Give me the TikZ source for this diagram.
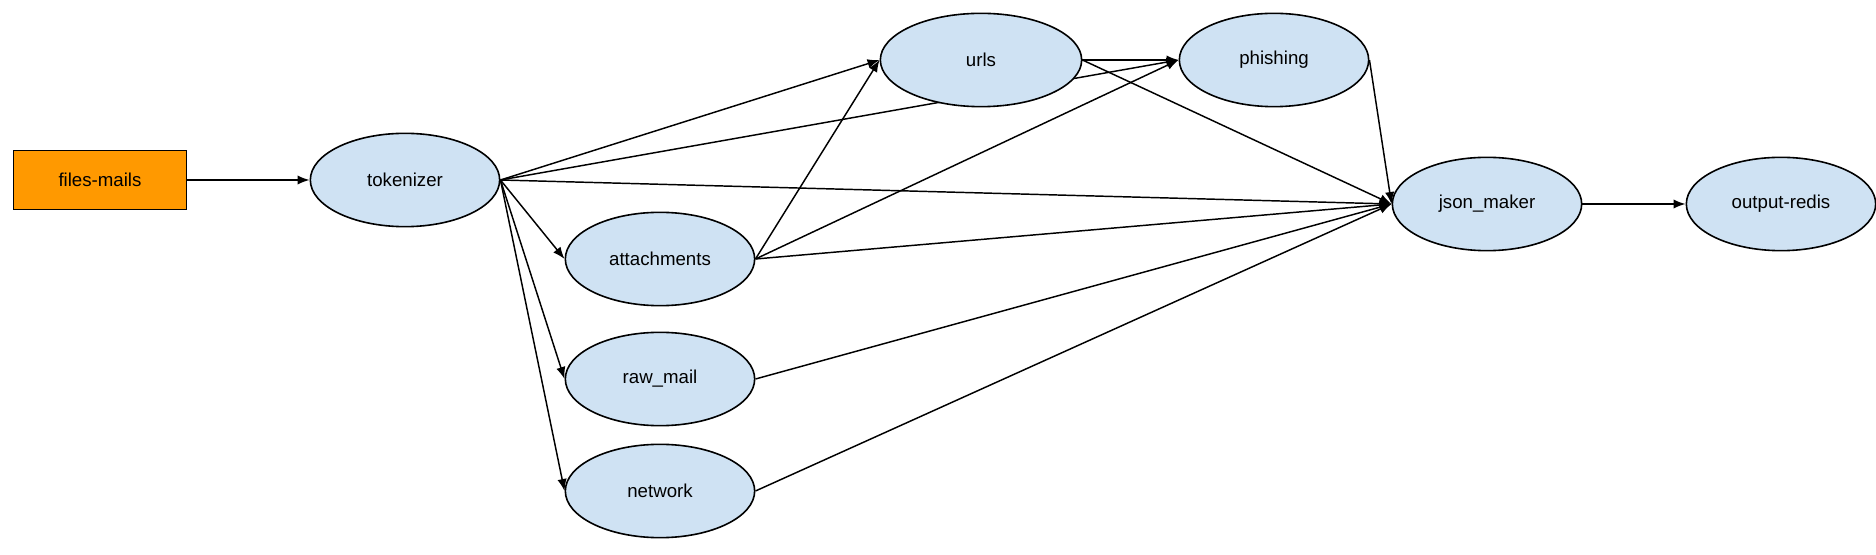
\documentclass[tikz,border=0pt]{standalone}
\usepackage{fontspec}
\setmainfont{Liberation Sans}
\usetikzlibrary{arrows.meta,shapes.geometric,backgrounds}
\definecolor{procblue}{HTML}{CFE2F3}
\definecolor{srcorange}{HTML}{FF9900}
\tikzset{
  proc/.style       = {draw, ellipse, fill=procblue, line width=1.2pt,
                       minimum width=142pt, minimum height=70pt, inner sep=0pt},
  src/.style        = {draw, rectangle, fill=srcorange, line width=1.2pt,
                       minimum width=130pt, minimum height=44pt, inner sep=0pt},
  flow/.style       = {-{Latex[length=9pt,width=7pt]}, line width=1.1pt},
  every node/.style = {font=\fontsize{14}{17}\selectfont},
}
\begin{document}
\begin{tikzpicture}[x=0.75pt, y=-0.75pt]
  \useasboundingbox (0,0) rectangle (1876,555);
  % nodes
  \node[src]  (files)  at (100,180)  {files-mails};
  \node[proc] (tok)    at (405,180)  {tokenizer};
  \node[proc, minimum width=151pt] (urls) at (981,60) {urls};
  \node[proc] (phish)  at (1274,60)  {phishing};
  \node[proc] (attach) at (660,259)  {attachments};
  \node[proc] (raw)    at (660,379)  {raw\_mail};
  \node[proc] (net)    at (660,491)  {network};
  \node[proc] (json)   at (1487,204) {json\_maker};
  \node[proc] (out)    at (1781,204) {output-redis};
  % edges under the nodes
  \begin{scope}[on background layer]
    \draw[flow] (files.east) -- (tok.west);
    \foreach \t in {urls,phish,json,attach,raw,net}
      \draw[flow] (tok.east) -- (\t.west);
    \foreach \t in {urls,phish,json}
      \draw[flow] (attach.east) -- (\t.west);
    \draw[flow] (urls.east) -- (phish.west);
    \draw[flow] (urls.east) -- (json.west);
    \draw[flow] (phish.east) -- (json.west);
    \draw[flow] (raw.east) -- (json.west);
    \draw[flow] (net.east) -- (json.west);
    \draw[flow] (json.east) -- (out.west);
  \end{scope}
\end{tikzpicture}
\end{document}
